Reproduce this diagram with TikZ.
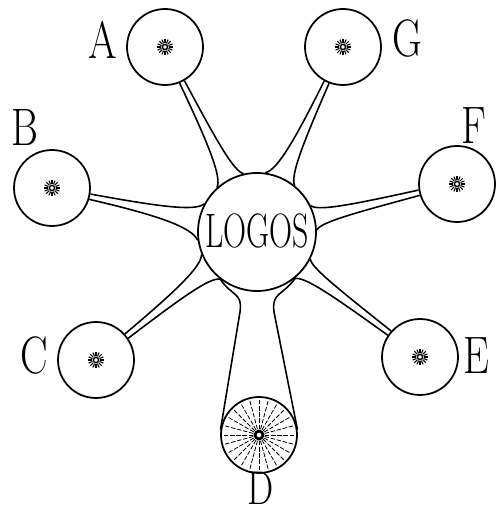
\documentclass[tikz,border=0pt]{standalone}
\usetikzlibrary{calc}
\tikzset{
  orb/.style={draw,circle,line width=1pt,minimum size=1.52cm,inner sep=0pt},
  letter/.style={font=\fontsize{30}{30}\selectfont,inner sep=0pt,xscale=0.78,transform shape},
}
% little star in the middle of a sphere
\newcommand\sunspot[1]{%
  \draw[line width=0.8pt] (#1) circle (2.6);
  \foreach \t in {0,22.5,...,337.5}
    \draw[line width=0.6pt] ($(#1)+(\t:3.8)$) -- ($(#1)+(\t:8)$);
}
\begin{document}
\begin{tikzpicture}[x=0.02cm,y=0.02cm,line width=0.9pt]
\useasboundingbox (0,0) rectangle (496,510);
\node[orb,minimum size=2.36cm] (L) at (257,278) {};
\node[font=\fontsize{27.5}{27.5}\selectfont,xscale=0.66,transform shape,inner sep=0pt] (logos) at (257,279) {LOGOS};
\node[orb] (A) at (165,463) {};
\node[orb] (G) at (343,463) {};
\node[orb] (B) at (52,322) {};
\node[orb] (F) at (457,326) {};
\node[orb] (C) at (96,150) {};
\node[orb] (E) at (420,153) {};
\node[orb] (D) at (259,75) {};
\node[letter] (la) at (103,470) {A};
\node[letter] (lg) at (407,471) {G};
\node[letter] (lb) at (25,382) {B};
\node[letter] (lf) at (474,384) {F};
\node[letter] (lc) at (34,154) {C};
\node[letter] (le) at (476,154) {E};
\node[letter,font=\fontsize{27}{27}\selectfont] (ld) at (261,22) {D};
\foreach \s in {A,G,B,F,C,E} {\sunspot{\s}}
% the six thin arms: sphere/axis/lower/upper
\foreach \s/\p/\a/\b [evaluate=\p as \pa using \p+184, evaluate=\p as \pb using \p+176] in
  {A/116.4/103/132, G/65.1/51/82, B/167.9/152/188, F/13.5/2/26, C/218.5/202/232, E/322.5/309/333} {
  \draw (\s.\pa) .. controls ($(L)+({\p-2.5}:100)$) and ($(L)+({\a+0.6*(\p-\a)}:65)$) .. (L.\a);
  \draw (\s.\pb) .. controls ($(L)+({\p+2.5}:100)$) and ($(L)+({\b-0.6*(\b-\p)}:65)$) .. (L.\b);
}
% the wide stem down to D
\coordinate (dl) at (240,198);
\coordinate (dr) at (274,198);
\draw (L.232) .. controls ($(L.232)+(-55:22)$) and ($(dl)+(2.5,20)$) .. (dl) -- (D.172);
\draw (L.310) .. controls ($(L.310)+(-125:22)$) and ($(dr)+(-2.5,20)$) .. (dr) -- (D.8);
\foreach \t in {0,15,...,345}
  \draw[line width=0.45pt,dash pattern=on 2.5pt off 1pt] ($(D)+(\t:6)$) -- ($(D)+(\t:36)$);
\draw[line width=1.6pt] (D) circle (4);
\end{tikzpicture}
\end{document}
